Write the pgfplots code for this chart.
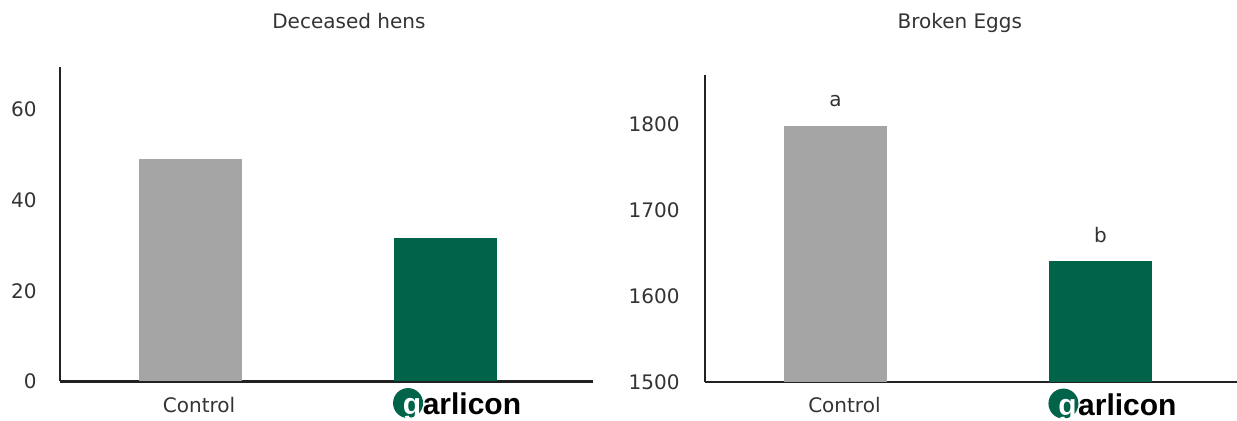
\documentclass[border=0pt]{standalone}
\usepackage{pgfplots}
\pgfplotsset{compat=1.18}
\usepackage{fontspec}
\setmainfont{DejaVu Sans}
\newfontfamily\logofont{Liberation Sans}
\definecolor{garlic}{HTML}{00634A}
\definecolor{ctrl}{HTML}{A5A5A5}
\definecolor{txt}{HTML}{333333}
\definecolor{axl}{HTML}{222222}
\protected\def\garlicon{\hspace{3pt}\raisebox{-1.2pt}{%
\begin{tikzpicture}[baseline=0pt]
\fill[garlic] (7.25pt,5.9pt) circle[radius=7.5pt];
\end{tikzpicture}%
\hspace{-10.1pt}{\color{white}\logofont\bfseries\fontsize{15pt}{15pt}\selectfont g}%
\hspace{0.8pt}{\color{black}\logofont\bfseries\fontsize{15pt}{15pt}\selectfont arlicon}}}
\pgfplotsset{
  mybar/.style={
    scale only axis,
    axis x line=bottom, axis y line=left,
    axis line style={-, line width=1.1pt, color=axl},
    major tick length=0pt,
    ybar, bar width=51.5pt,
    xtick={0,1},
    anchor=south west,
    /pgf/number format/assume math mode=true,
    /pgf/number format/1000 sep={},
    yticklabel style={anchor=east, inner sep=0pt, xshift=-11.5pt, text=txt},
    xticklabel style={anchor=base, inner sep=0pt, yshift=-15.5pt, xshift=4.5pt, text=txt},
    title style={anchor=base, text=txt},
    clip=false,
  }
}
\begin{document}
\begin{tikzpicture}
\begin{axis}[mybar, at={(30pt,19.75pt)}, width=266.5pt, height=157.25pt,
  xmin=-0.51, xmax=1.58, ymin=0, ymax=69.4, ytick={0,20,40,60},
  xticklabels={Control,{\garlicon}},
  title={Deceased hens}, title style={at={(0.542,1)}, yshift=13pt}]
\addplot[fill=ctrl, draw=none, bar shift=0pt] coordinates {(0,49)};
\addplot[fill=garlic, draw=none, bar shift=0pt] coordinates {(1,31.6)};
\end{axis}
\begin{axis}[mybar, at={(352.5pt,19.5pt)}, width=266pt, height=153.5pt,
  xmin=-0.492, xmax=1.515, ymin=1500, ymax=1857, ytick={1500,1600,1700,1800},
  yticklabel style={xshift=-1pt},
  xticklabels={Control,{\garlicon}},
  title={Broken Eggs}, title style={at={(0.479,1)}, yshift=17pt},
  point meta=explicit symbolic,
  nodes near coords,
  nodes near coords style={anchor=base, inner sep=0pt, yshift=9.5pt, text=txt}]
\addplot[fill=ctrl, draw=none, bar shift=0pt] coordinates {(0,1797.7) [a]};
\addplot[fill=garlic, draw=none, bar shift=0pt] coordinates {(1,1640.5) [b]};
\end{axis}
\pgfresetboundingbox
\useasboundingbox (0,0) rectangle (618.5pt,210.5pt);
\end{tikzpicture}
\end{document}
